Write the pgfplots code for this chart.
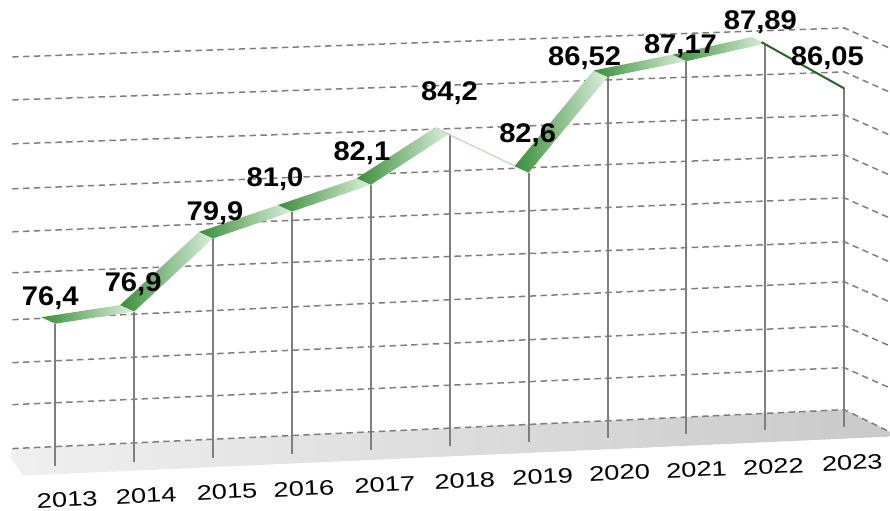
\documentclass[border=0pt]{standalone}
\usepackage{pgfplots}
\pgfplotsset{compat=1.18}
\usepackage{fontspec}
\setmainfont{Liberation Sans}
\newfontfamily\valfont[FakeStretch=1.08]{Liberation Sans}
\newfontfamily\yearfont[FakeStretch=1.3]{Liberation Sans}

\definecolor{gdark}{HTML}{3A8F3A}
\definecolor{glight}{HTML}{DCEFDC}
\definecolor{gridgray}{HTML}{7E7E7E}

\begin{document}
\begin{tikzpicture}
\begin{axis}[
  width=445pt, height=255.5pt, scale only axis,
  xmin=2012.30, xmax=2023.57,
  ymin=68.736, ymax=89.679,
  hide axis, clip=false,
]
% keep the full canvas
\addplot[draw=none] coordinates {(2012.30,68.736) (2023.57,89.679)};

% floor
\addplot[draw=none, left color=gray!12, right color=gray!42] coordinates {
(2012.456,71.277) (2023.0,72.875) (2023.57,71.974) (2023.57,71.769) (2012.60,70.170) (2012.43,70.90)
};

% dashed grid (perspective)
\pgfplotsset{gridline/.style={gridgray, line width=0.75pt, dash pattern=on 3.2pt off 2.2pt}}
\addplot[gridline] coordinates {(2012.456,87.343) (2023,88.531) (2023.57,87.711)};
\addplot[gridline] coordinates {(2012.456,85.580) (2023,86.728) (2023.57,85.908)};
\addplot[gridline] coordinates {(2012.456,83.777) (2023,84.966) (2023.57,84.146)};
\addplot[gridline] coordinates {(2012.456,81.933) (2023,83.326) (2023.57,82.506)};
\addplot[gridline] coordinates {(2012.456,80.170) (2023,81.564) (2023.57,80.744)};
\addplot[gridline] coordinates {(2012.456,78.490) (2023,79.761) (2023.57,78.941)};
\addplot[gridline] coordinates {(2012.456,76.564) (2023,78.121) (2023.57,77.301)};
\addplot[gridline] coordinates {(2012.456,74.802) (2023,76.318) (2023.57,75.498)};
\addplot[gridline] coordinates {(2012.456,73.080) (2023,74.597) (2023.57,73.777)};
\addplot[gridline] coordinates {(2012.456,71.277) (2023,72.875) (2023.57,71.974)};

% drop lines
\addplot[draw=none, error bars/.cd, y dir=minus, y explicit, error mark=none,
  error bar style={gridgray, line width=1pt}] coordinates {
(2013,76.4) -= (0,5.82)
(2014,76.9) -= (0,6.16)
(2015,79.9) -= (0,9.00)
(2016,81.0) -= (0,9.94)
(2017,82.1) -= (0,10.88)
(2018,84.2) -= (0,12.82)
(2019,82.6) -= (0,11.06)
(2020,86.52) -= (0,14.82)
(2021,87.17) -= (0,15.31)
(2022,87.89) -= (0,15.87)
(2023,86.05) -= (0,13.87)
};

% ribbon segments
\pgfplotsset{rib/.style={draw=none, left color=gdark, right color=glight}}
\addplot[rib] coordinates {(2013,76.4) (2014,76.9) (2013.823,77.166) (2012.823,76.666)};
\addplot[rib] coordinates {(2014,76.9) (2015,79.9) (2014.823,80.166) (2013.823,77.166)};
\addplot[rib] coordinates {(2015,79.9) (2016,81.0) (2015.823,81.266) (2014.823,80.166)};
\addplot[rib] coordinates {(2016,81.0) (2017,82.1) (2016.823,82.366) (2015.823,81.266)};
\addplot[rib] coordinates {(2017,82.1) (2018,84.2) (2017.823,84.466) (2016.823,82.366)};
\addplot[glight!80!gdark, line width=0.6pt] coordinates {(2017.9,84.3) (2019,82.6)};
\addplot[rib] coordinates {(2019,82.6) (2020,86.52) (2019.823,86.786) (2018.823,82.866)};
\addplot[rib] coordinates {(2020,86.52) (2021,87.17) (2020.823,87.436) (2019.823,86.786)};
\addplot[rib] coordinates {(2021,87.17) (2022,87.89) (2021.823,88.156) (2020.823,87.436)};
\addplot[gdark!70!black, line width=1pt] coordinates {(2021.95,87.95) (2023,86.05)};

% value labels
\addplot[draw=none, nodes near coords, point meta=explicit symbolic,
  every node near coord/.append style={anchor=center, inner sep=0pt,
    font=\valfont\fontsize{13.5}{16}\selectfont\bfseries}]
  table[meta=lab] {
x y lab
2012.937 77.466 {76,4}
2013.987 78.039 {76,9}
2015.025 80.949 {79,9}
2015.785 82.343 {81,0}
2016.886 83.408 {82,1}
2017.998 85.867 {84,2}
2018.987 84.146 {82,6}
2019.709 87.302 {86,52}
2020.924 87.793 {87,17}
2021.937 88.777 {87,89}
2022.785 87.302 {86,05}
};

% year labels
\addplot[draw=none, nodes near coords, point meta=explicit symbolic,
  every node near coord/.append style={anchor=center, inner sep=0pt, rotate=2.5,
    font=\yearfont\fontsize{10.5}{12}\selectfont}]
  table[meta=lab] {
x y lab
2013.152 69.187 2013
2014.152 69.351 2014
2015.177 69.515 2015
2016.152 69.638 2016
2017.177 69.802 2017
2018.190 69.966 2018
2019.177 70.130 2019
2020.152 70.293 2020
2021.127 70.416 2021
2022.101 70.539 2022
2023.101 70.703 2023
};
\end{axis}
\end{tikzpicture}
\end{document}
